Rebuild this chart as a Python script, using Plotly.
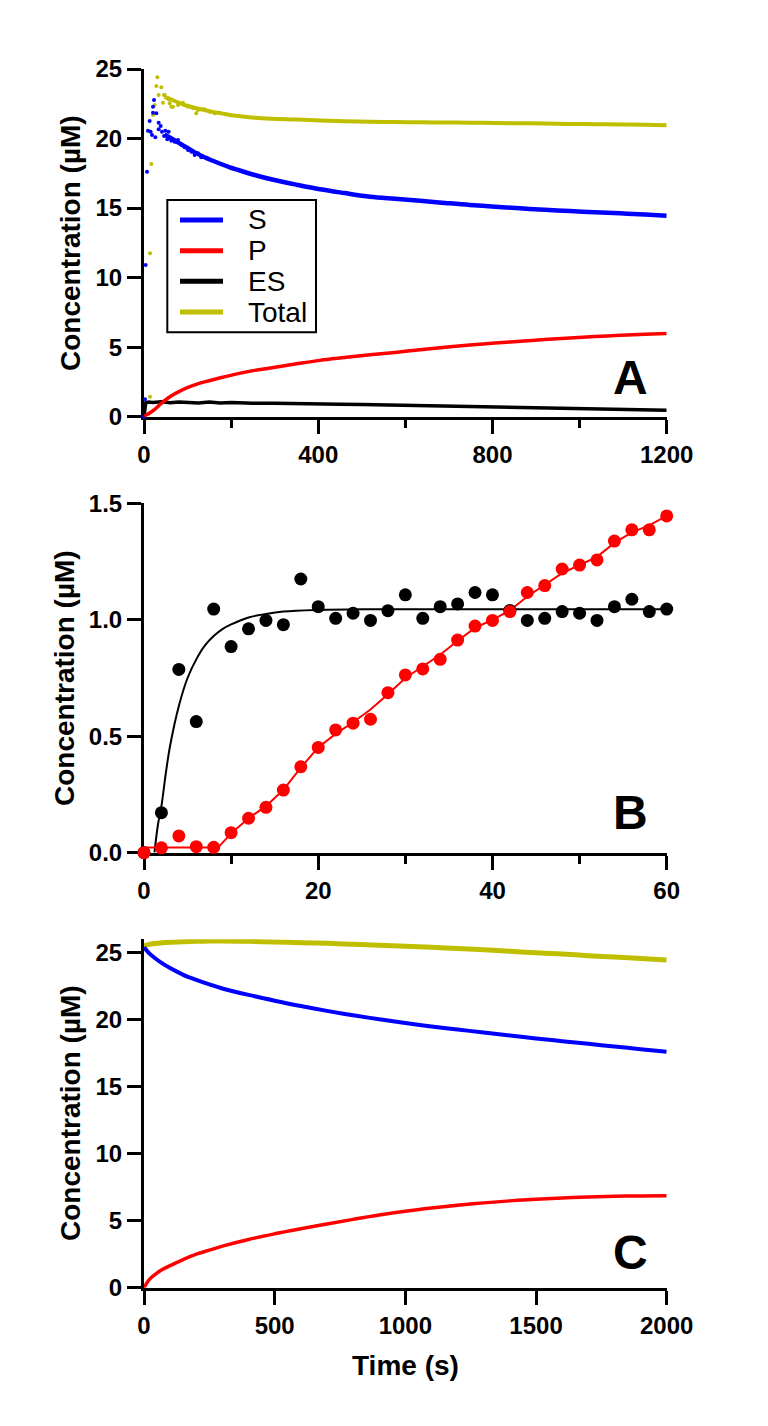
import plotly.graph_objects as go

# ---------------- Panel A data ----------------
A_S_dot_t = [0, 2.3, 3.8, 6.9, 9.2, 13.0, 15.3, 18.4, 20.7, 20.7, 23.0, 26.0, 28.3, 33.7, 33.7, 38.3, 41.3, 46.0, 49.0, 53.5, 56.6, 62.8,
             70.4, 78.0, 85.7, 93.3, 101.0, 108.7, 116.3, 124.0, 131.6]
A_S_dot_c = [0, 1.25, 10.9, 17.62, 20.56, 21.26, 20.49, 20.25, 22.29, 21.86, 22.77, 20.09, 21.81, 21.14, 20.66, 20.9, 20.49, 20.18, 20.56, 19.94, 20.49, 19.85,
             19.77, 19.9, 19.54, 19.37, 19.18, 19.05, 18.82, 18.94, 18.65]
A_T_dot_t = [13.8, 13.8, 16.8, 20.7, 24.5, 28.3, 30.6, 33.7, 39.8, 43.6, 46.0, 56.6, 59.0, 62.8, 78.0,
             47.4, 55.1, 66.6, 89.5, 101.0, 112.5, 120.0, 124.0, 139.0, 150.8, 162.0]
A_T_dot_c = [1.44, 11.75, 18.17, 21.69, 22.41, 23.78, 24.4, 23.13, 23.68, 22.58, 23.13, 22.82, 22.53, 22.29, 22.41,
             23.13, 22.89, 22.29, 22.58, 22.29, 22.17, 21.81, 22.05, 22.1, 21.93, 21.81]

A_line_t = [47, 63, 82, 101, 120, 139, 158, 178, 197, 216, 254, 292, 350, 404, 460, 519, 576, 634, 691, 748, 806, 863, 920, 978, 1035, 1093, 1150, 1200]
A_S = [20.3, 20.0, 19.65, 19.3, 18.95, 18.65, 18.4, 18.15, 17.93, 17.74, 17.38, 17.07, 16.68, 16.35, 16.08, 15.82, 15.67, 15.53, 15.37, 15.22, 15.1, 14.98, 14.88, 14.79, 14.7, 14.62, 14.53, 14.45]
A_Total = [23.0, 22.8, 22.55, 22.34, 22.18, 22.05, 21.92, 21.81, 21.7, 21.62, 21.5, 21.43, 21.37, 21.3, 21.25, 21.21, 21.19, 21.17, 21.15, 21.14, 21.12, 21.1, 21.08, 21.05, 21.03, 21.01, 20.99, 20.96]

A_P_t = [0, 5, 13, 24.5, 40, 50, 63, 80, 101, 120, 139, 178, 216, 254, 290, 350, 404, 460, 519, 576, 634, 691, 748, 806, 863, 920, 978, 1035, 1093, 1150, 1200]
A_P = [0, 0.12, 0.26, 0.52, 0.97, 1.22, 1.5, 1.8, 2.1, 2.32, 2.5, 2.82, 3.1, 3.33, 3.5, 3.8, 4.05, 4.25, 4.45, 4.62, 4.82, 5.0, 5.15, 5.3, 5.42, 5.55, 5.66, 5.76, 5.85, 5.92, 5.98]

A_ES_t = [0, 2, 4, 10, 20, 40, 60, 80, 100, 125, 150, 175, 200, 250, 300, 350, 400, 450, 500, 550, 600, 650, 700, 750, 800, 850, 900, 950, 1000, 1050, 1100, 1150, 1200]
A_ES = [0, 0.7, 1.0, 1.05, 1.02, 1.08, 1.0, 1.06, 1.02, 0.98, 1.05, 0.99, 1.02, 0.96, 0.97, 0.93, 0.95, 0.9, 0.88, 0.85, 0.84, 0.8, 0.78, 0.74, 0.73, 0.7, 0.67, 0.64, 0.62, 0.58, 0.55, 0.5, 0.47]

# ---------------- Panel B data ----------------
B_t = [0, 2, 4, 6, 8, 10, 12, 14, 16, 18, 20, 22, 24, 26, 28, 30, 32, 34, 36, 38, 40, 42, 44, 46, 48, 50, 52, 54, 56, 58, 60]
B_ES = [0, 0.172, 0.787, 0.563, 1.046, 0.885, 0.961, 0.997, 0.979, 1.175, 1.056, 1.006, 1.028, 0.997, 1.039, 1.107, 1.006, 1.056, 1.068, 1.117, 1.107, 1.04, 0.997, 1.006, 1.035, 1.028, 0.997, 1.056, 1.088, 1.035, 1.046]
B_P = [0, 0.021, 0.072, 0.026, 0.023, 0.086, 0.148, 0.195, 0.269, 0.369, 0.452, 0.527, 0.556, 0.573, 0.687, 0.763, 0.789, 0.830, 0.913, 0.973, 0.997, 1.035, 1.117, 1.147, 1.218, 1.235, 1.257, 1.338, 1.386, 1.386, 1.446]

B_ES_fit_t = [1.2, 1.6, 2.0, 2.5, 3.0, 4.0, 5.0, 6.0, 7.0, 8.0, 9.0, 10.0, 12.0, 14.0, 16.0, 20.0, 25.0, 30.0, 40.0, 50.0, 60.0]
B_ES_fit = [0, 0.12, 0.2, 0.34, 0.46, 0.63, 0.75, 0.83, 0.89, 0.93, 0.96, 0.98, 1.01, 1.025, 1.035, 1.042, 1.045, 1.045, 1.045, 1.045, 1.045]

B_P_fit_t = [0, 8.5, 10, 12, 14, 16, 18, 20, 22, 24, 26, 28, 30, 32, 34, 36, 38, 40, 42, 44, 46, 48, 50, 52, 54, 56, 58, 60]
B_P_fit = [0.022, 0.022, 0.083, 0.148, 0.2, 0.27, 0.365, 0.452, 0.51, 0.56, 0.615, 0.68, 0.75, 0.8, 0.85, 0.91, 0.965, 1.0, 1.04, 1.1, 1.15, 1.2, 1.235, 1.27, 1.33, 1.375, 1.405, 1.446]

# ---------------- Panel C data ----------------
C_t = [0, 20, 40, 70, 100, 150, 200, 250, 300, 400, 500, 600, 700, 800, 900, 1000, 1100, 1200, 1300, 1400, 1500, 1600, 1700, 1800, 1900, 2000]
C_S = [25.4, 24.95, 24.62, 24.2, 23.85, 23.35, 22.97, 22.63, 22.33, 21.85, 21.42, 21.02, 20.66, 20.33, 20.03, 19.75, 19.5, 19.27, 19.04, 18.82, 18.6, 18.4, 18.2, 18.0, 17.8, 17.6]
C_P = [0, 0.6, 0.95, 1.35, 1.65, 2.1, 2.5, 2.8, 3.1, 3.6, 4.02, 4.4, 4.76, 5.1, 5.42, 5.7, 5.94, 6.15, 6.33, 6.48, 6.6, 6.7, 6.77, 6.82, 6.85, 6.87]
C_Total = [25.5, 25.62, 25.68, 25.74, 25.78, 25.82, 25.85, 25.87, 25.88, 25.85, 25.8, 25.75, 25.7, 25.63, 25.55, 25.48, 25.4, 25.32, 25.22, 25.1, 25.0, 24.9, 24.78, 24.68, 24.57, 24.46]

legend_names = ["S", "P", "ES", "Total"]
panel_labels = ["A", "B", "C"]

BLUE = "#0000FF"
RED = "#FF0000"
BLACK = "#000000"
YEL = "#BFBF00"
FONT = "Liberation Sans, Arial, sans-serif"

W, H = 768, 1426


def px_x(p):
    return p / W


def px_y(p):
    return 1 - p / H


fig = go.Figure()

# Panel A
fig.add_trace(go.Scatter(x=A_line_t, y=A_Total, mode="lines", line=dict(color=YEL, width=4, shape="spline"), xaxis="x", yaxis="y", cliponaxis=False))
fig.add_trace(go.Scatter(x=A_T_dot_t, y=A_T_dot_c, mode="markers", marker=dict(color=YEL, size=4), xaxis="x", yaxis="y", cliponaxis=False))
fig.add_trace(go.Scatter(x=A_line_t, y=A_S, mode="lines", line=dict(color=BLUE, width=4.5, shape="spline"), xaxis="x", yaxis="y", cliponaxis=False))
fig.add_trace(go.Scatter(x=A_S_dot_t, y=A_S_dot_c, mode="markers", marker=dict(color=BLUE, size=4), xaxis="x", yaxis="y", cliponaxis=False))
fig.add_trace(go.Scatter(x=A_ES_t, y=A_ES, mode="lines", line=dict(color=BLACK, width=3.5), xaxis="x", yaxis="y", cliponaxis=False))
fig.add_trace(go.Scatter(x=A_P_t, y=A_P, mode="lines", line=dict(color=RED, width=3.5, shape="spline"), xaxis="x", yaxis="y", cliponaxis=False))

# Panel B
fig.add_trace(go.Scatter(x=B_ES_fit_t, y=B_ES_fit, mode="lines", line=dict(color=BLACK, width=2, shape="spline"), xaxis="x2", yaxis="y2", cliponaxis=False))
fig.add_trace(go.Scatter(x=B_P_fit_t, y=B_P_fit, mode="lines", line=dict(color=RED, width=2), xaxis="x2", yaxis="y2", cliponaxis=False))
fig.add_trace(go.Scatter(x=B_t, y=B_ES, mode="markers", marker=dict(color=BLACK, size=13), xaxis="x2", yaxis="y2", cliponaxis=False))
fig.add_trace(go.Scatter(x=B_t, y=B_P, mode="markers", marker=dict(color=RED, size=13), xaxis="x2", yaxis="y2", cliponaxis=False))

# Panel C
fig.add_trace(go.Scatter(x=C_t, y=C_Total, mode="lines", line=dict(color=YEL, width=5, shape="spline"), xaxis="x3", yaxis="y3", cliponaxis=False))
fig.add_trace(go.Scatter(x=C_t, y=C_S, mode="lines", line=dict(color=BLUE, width=4, shape="spline"), xaxis="x3", yaxis="y3", cliponaxis=False))
fig.add_trace(go.Scatter(x=C_t, y=C_P, mode="lines", line=dict(color=RED, width=3.5, shape="spline"), xaxis="x3", yaxis="y3", cliponaxis=False))

xdom = [px_x(144), px_x(666.7)]
ydoms = [
    [px_y(416.7), px_y(69)],
    [px_y(852.7), px_y(503.3)],
    [px_y(1287.7), px_y(939.3)],
]

tickfont = dict(family=FONT, size=24, color="black", weight="bold")


def ax_common():
    return dict(
        showline=True, linecolor="black", linewidth=3,
        ticks="outside", ticklen=14, tickwidth=3, tickcolor="black",
        showgrid=False, zeroline=False, tickfont=tickfont, layer="below traces",
        fixedrange=True, automargin=False,
    )


layout = dict(
    template="none",
    width=W, height=H, autosize=False,
    margin=dict(l=0, r=0, t=0, b=0, pad=0),
    paper_bgcolor="white", plot_bgcolor="white",
    showlegend=False,
    font=dict(family=FONT, color="black"),
)

# x axes
layout["xaxis"] = dict(ax_common(), domain=xdom, anchor="y", range=[0, 1200], tickmode="linear", tick0=0, dtick=400,
                       minor=dict(dtick=200, tick0=0, ticks="outside", ticklen=8, tickwidth=3, tickcolor="black"))
layout["xaxis2"] = dict(ax_common(), domain=xdom, anchor="y2", range=[0, 60], tickmode="linear", tick0=0, dtick=20,
                        minor=dict(dtick=10, tick0=0, ticks="outside", ticklen=8, tickwidth=3, tickcolor="black"))
layout["xaxis3"] = dict(ax_common(), domain=xdom, anchor="y3", range=[0, 2000], tickmode="linear", tick0=0, dtick=500)
# y axes
layout["yaxis"] = dict(ax_common(), domain=ydoms[0], anchor="x", range=[0, 25], tickmode="linear", tick0=0, dtick=5)
layout["yaxis2"] = dict(ax_common(), domain=ydoms[1], anchor="x2", range=[0, 1.5], tickmode="linear", tick0=0, dtick=0.5, tickformat=".1f")
layout["yaxis3"] = dict(ax_common(), domain=ydoms[2], anchor="x3", range=[0, 26], tickmode="array", tickvals=[0, 5, 10, 15, 20, 25])

annotations = []
# y-axis titles
for xc, yc in [(70, 243), (64, 678), (70, 1113)]:
    annotations.append(dict(text="<b>Concentration (µM)</b>", x=px_x(xc), y=px_y(yc), xref="paper", yref="paper",
                            xanchor="center", yanchor="middle", textangle=-90, showarrow=False,
                            font=dict(family=FONT, size=28, color="black")))
# x-axis title
annotations.append(dict(text="<b>Time (s)</b>", x=px_x(405.3), y=px_y(1365), xref="paper", yref="paper",
                        xanchor="center", yanchor="middle", showarrow=False,
                        font=dict(family=FONT, size=28, color="black")))
# Panel labels
for lab, yc in zip(panel_labels, [377, 812, 1252]):
    annotations.append(dict(text="<b>%s</b>" % lab, x=px_x(630.7), y=px_y(yc), xref="paper", yref="paper",
                            xanchor="center", yanchor="middle", showarrow=False,
                            font=dict(family=FONT, size=48, color="black")))

# Manual legend for panel A
shapes = [dict(type="rect", xref="paper", yref="paper", x0=px_x(167.3), x1=px_x(316), y0=px_y(332.3), y1=px_y(200),
               line=dict(color="black", width=2), fillcolor="white", layer="above")]
leg_colors = [BLUE, RED, BLACK, YEL]
leg_rows = [220, 250.7, 281.3, 312]
for name, col, yr in zip(legend_names, leg_colors, leg_rows):
    shapes.append(dict(type="line", xref="paper", yref="paper", x0=px_x(180), x1=px_x(223), y0=px_y(yr), y1=px_y(yr),
                       line=dict(color=col, width=5), layer="above"))
    annotations.append(dict(text=name, x=px_x(246), y=px_y(yr), xref="paper", yref="paper",
                            xanchor="left", yanchor="middle", showarrow=False,
                            font=dict(family=FONT, size=28, color="black")))

layout["annotations"] = annotations
layout["shapes"] = shapes
fig.update_layout(**layout)

fig.write_html("out.html")
